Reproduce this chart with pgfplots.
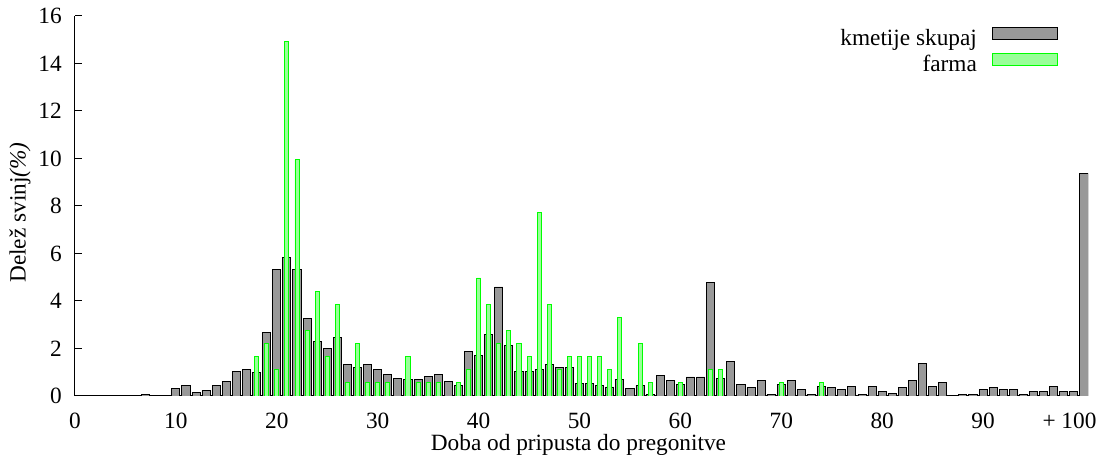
\documentclass[border=0pt]{standalone}
\usepackage{fontspec}
\setmainfont{Liberation Serif}
\usepackage{pgfplots}
\pgfplotsset{compat=1.18}
\definecolor{barGrey}{HTML}{999999}
\definecolor{barGreenFill}{HTML}{99FF99}
\definecolor{barGreenLine}{HTML}{00FF00}
\newcommand{\chartfont}{\fontsize{23.3bp}{28bp}\selectfont}
\begin{document}
\begin{tikzpicture}
\useasboundingbox (-75bp,-59bp) rectangle (1027bp,396bp);
\begin{axis}[
  at={(0,0)}, anchor=south west,
  scale only axis, width=1013bp, height=380bp,
  xmin=0, xmax=100.4, ymin=0, ymax=16,
  axis x line*=bottom, axis y line*=left,
  axis line style={-, black, line width=1bp},
  xtick={0,10,...,100},
  xticklabels={0,10,20,30,40,50,60,70,80,90,{\makebox[0pt][r]{+ 100\kern-12.5bp}}},
  xtick style={draw=none},
  ytick={0,2,...,16},
  ytick style={black, line width=1bp},
  tick align=inside,
  major tick length=7bp,
  /pgf/number format/assume math mode=true,
  tick label style={font=\chartfont},
  xticklabel style={anchor=north, inner sep=0pt, yshift=-17bp},
  yticklabel style={anchor=east, inner sep=0pt, xshift=-13bp},
  xlabel={Doba od pripusta do pregonitve},
  ylabel={Delež svinj\textit{(\%)}},
  every axis x label/.style={at={(axis description cs:0.497,0)}, anchor=base, inner sep=0pt, yshift=-54bp, font=\chartfont},
  every axis y label/.style={at={(axis description cs:0,0.483)}, rotate=90, anchor=center, inner sep=0pt, yshift=55bp, font=\chartfont},
  legend plot pos=right,
  legend cell align=right,
  legend style={at={(rel axis cs:0.9704,0.9716)}, anchor=north east, draw=none, fill=none,
    inner sep=0pt, font=\chartfont, column sep=15bp, row sep=1.6bp,
    nodes={inner sep=0pt, text height=16.5bp, text depth=5.5bp}},
]
\addplot[ybar, bar width=0.8, bar shift=0pt, fill=barGrey, draw=black, line width=0.9bp,
  legend image code/.code={\draw[fill=barGrey, draw=black, line width=0.9bp] (0bp,0.6bp) rectangle (65bp,13bp);}]
coordinates {
(7,0.08) (10,0.32) (11,0.45) (12,0.14) (13,0.22) (14,0.45) (15,0.60) (16,1.05) (17,1.12)
(18,0.98) (19,2.66) (20,5.31) (21,5.83) (22,5.31) (23,3.25) (24,2.30) (25,1.99) (26,2.45)
(27,1.33) (28,1.19) (29,1.33) (30,1.12) (31,0.90) (32,0.74) (33,0.69) (34,0.69) (35,0.81)
(36,0.90) (37,0.60) (38,0.45) (39,1.86) (40,1.71) (41,2.59) (42,4.59) (43,2.14) (44,1.05)
(45,1.05) (46,1.12) (47,1.33) (48,1.19) (49,1.19) (50,0.52) (51,0.52) (52,0.45) (53,0.38)
(54,0.69) (55,0.31) (56,0.45) (57,0.07) (58,0.87) (59,0.64) (60,0.49) (61,0.80) (62,0.80)
(63,4.78) (64,0.73) (65,1.46) (66,0.49) (67,0.35) (68,0.64) (69,0.06) (70,0.49) (71,0.64)
(72,0.28) (73,0.07) (74,0.42) (75,0.36) (76,0.28) (77,0.42) (78,0.07) (79,0.42) (80,0.20)
(81,0.10) (82,0.35) (83,0.64) (84,1.36) (85,0.42) (86,0.56) (88,0.07) (89,0.07) (90,0.28)
(91,0.36) (92,0.28) (93,0.28) (94,0.07) (95,0.20) (96,0.20) (97,0.42) (98,0.20) (99,0.20)
(100,9.35)
};
\addlegendentry{kmetije skupaj}
\addplot[ybar, bar width=0.4, bar shift=0pt, fill=barGreenFill, draw=barGreenLine, line width=0.9bp,
  legend image code/.code={\draw[fill=barGreenFill, draw=barGreenLine, line width=0.9bp] (0bp,0.6bp) rectangle (65bp,13bp);}]
coordinates {
(18,1.66) (19,2.21) (20,1.10) (21,14.92) (22,9.94) (23,2.76) (24,4.42) (25,1.66) (26,3.87)
(27,0.55) (28,2.21) (29,0.55) (30,0.55) (31,0.55) (33,1.66) (34,0.55) (35,0.55) (36,0.55)
(38,0.55) (39,1.10) (40,4.97) (41,3.87) (42,2.21) (43,2.76) (44,2.21) (45,1.66) (46,7.73)
(47,3.87) (48,1.10) (49,1.66) (50,1.66) (51,1.66) (52,1.66) (53,1.10) (54,3.31) (56,2.21)
(57,0.55) (60,0.55) (63,1.10) (64,1.10) (70,0.55) (74,0.55)
};
\addlegendentry{farma}
\end{axis}
\end{tikzpicture}
\end{document}
